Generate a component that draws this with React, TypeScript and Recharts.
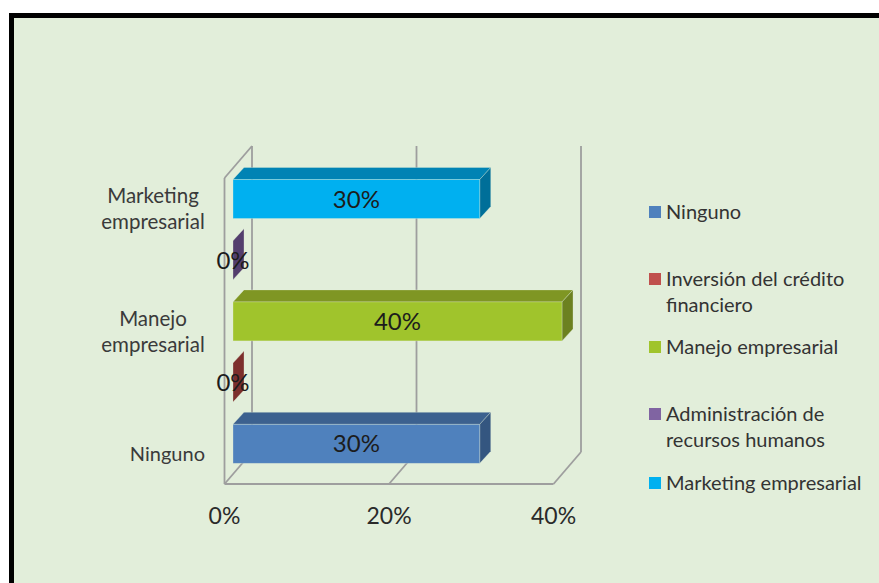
import { BarChart, Bar, XAxis, YAxis, CartesianGrid, Cell, LabelList, Legend } from "recharts";

const categories = [
  "Ninguno",
  "Inversión del crédito financiero",
  "Manejo empresarial",
  "Administración de recursos humanos",
  "Marketing empresarial",
];
const values = [30, 0, 40, 0, 30];
const valueTicks = [0, 20, 40];

const data = categories.map((name, i) => ({ name, value: values[i] }));

const FRONT = ["#4f81bd", "#c0504d", "#a0c42c", "#8064a2", "#00b0f0"];
const TOP = ["#3c618f", "#8f3a38", "#7f9623", "#5f4a7a", "#0083b4"];
const SIDE = ["#345680", "#7c2f2c", "#6c8120", "#533e6d", "#006f99"];

// legend rows are spaced by hand like the original
const LEGEND_ROWS = [
  { top: 198, lines: ["Ninguno"] },
  { top: 265, lines: ["Inversión del crédito", "financiero"] },
  { top: 333, lines: ["Manejo empresarial"] },
  { top: 400, lines: ["Administración de", "recursos humanos"] },
  { top: 469, lines: ["Marketing empresarial"] },
];

const FONT = "Lato, 'Open Sans', sans-serif";
const WIDTH = 879;
const HEIGHT = 583;
const MARGIN = { top: 168.5, right: 317, bottom: 68.5, left: 133 };
const Y_AXIS_WIDTH = 100;
const X_AXIS_HEIGHT = 40;
const PLOT_WIDTH = WIDTH - MARGIN.left - Y_AXIS_WIDTH - MARGIN.right;

// 3d box offsets
const BAR_DX = 11;
const BAR_DY = 12;
const FRONT_DX = -8.5;
const FRONT_DY = 9.5;
const BACK_DX = 19;
const BACK_DY = -22.5;
const GRID = "#9e9e9e";

function Box3D(props: any) {
  const { x, y, width, height, index } = props;
  const r = x + width;
  const b = y + height;
  const edge = "rgba(226,238,218,0.45)";
  return (
    <g>
      {width > 0 && (
        <polygon
          points={`${x},${y} ${r},${y} ${r + BAR_DX},${y - BAR_DY} ${x + BAR_DX},${y - BAR_DY}`}
          fill={TOP[index]}
          stroke={edge}
          strokeWidth={0.7}
        />
      )}
      <polygon
        points={`${r},${y} ${r + BAR_DX},${y - BAR_DY} ${r + BAR_DX},${b - BAR_DY} ${r},${b}`}
        fill={SIDE[index]}
        stroke={edge}
        strokeWidth={0.7}
      />
      {width > 0 && (
        <rect x={x} y={y} width={width} height={height} fill={FRONT[index]} stroke={edge} strokeWidth={0.7} />
      )}
    </g>
  );
}

function WallLine(props: any) {
  const { x1, y1, y2, index } = props;
  const stroke = { stroke: GRID, strokeWidth: 1.8, fill: "none" };
  const front = x1 + FRONT_DX;
  const back = x1 + BACK_DX;
  return (
    <g key={index}>
      <line x1={back} y1={y1 + BACK_DY} x2={back} y2={y2 + BACK_DY} {...stroke} />
      <line x1={front} y1={y2 + FRONT_DY} x2={back} y2={y2 + BACK_DY} {...stroke} />
      {index === 0 && (
        <>
          <line x1={front} y1={y1 + FRONT_DY} x2={front} y2={y2 + FRONT_DY} {...stroke} />
          <line x1={front} y1={y1 + FRONT_DY} x2={back} y2={y1 + BACK_DY} {...stroke} />
          <line x1={front} y1={y2 + FRONT_DY} x2={front + PLOT_WIDTH} y2={y2 + FRONT_DY} {...stroke} />
        </>
      )}
    </g>
  );
}

function CategoryTick(props: any) {
  const { y, payload } = props;
  const words = String(payload.value).split(" ");
  const base = { fontFamily: FONT, fontSize: 20.5, fill: "#3a3a3a" };
  if (words.length === 1) {
    return (
      <text x={205} y={y + 17} textAnchor="end" fontSize={20} fontFamily={FONT} fill={base.fill}>
        {words[0]}
      </text>
    );
  }
  return (
    <text textAnchor="middle" {...base}>
      {words.map((word, i) => (
        <tspan key={word} x={153} y={y + 4 + i * 26}>
          {word}
        </tspan>
      ))}
    </text>
  );
}

function ValueTick(props: any) {
  const { x, payload } = props;
  return (
    <text x={x + FRONT_DX} y={524} textAnchor="middle" fontFamily={FONT} fontSize={23} fill="#2a2a2a">
      {payload.value}%
    </text>
  );
}

function ChartLegend() {
  return (
    <div style={{ position: "relative", width: WIDTH, height: HEIGHT, fontFamily: FONT, fontSize: 20, color: "#333" }}>
      {LEGEND_ROWS.map((row, i) => (
        <div key={categories[i]} style={{ position: "absolute", left: 649, top: row.top, lineHeight: "26px" }}>
          <span style={{ position: "absolute", left: 0, top: 8, width: 12, height: 12, background: FRONT[i] }} />
          <div style={{ marginLeft: 17, whiteSpace: "nowrap" }}>
            {row.lines.map((line) => (
              <div key={line}>{line}</div>
            ))}
          </div>
        </div>
      ))}
    </div>
  );
}

export default function App() {
  return (
    <div style={{ position: "absolute", left: 0, top: 0, width: WIDTH, height: HEIGHT, overflow: "hidden", background: "#fff" }}>
      <div
        style={{
          position: "absolute",
          left: 9,
          top: 13,
          width: WIDTH,
          height: HEIGHT,
          boxSizing: "border-box",
          border: "5px solid #000",
          background: "#e2eeda",
        }}
      />
      <div style={{ position: "absolute", left: 0, top: 0 }}>
        <BarChart width={WIDTH} height={HEIGHT} data={data} layout="vertical" margin={MARGIN}>
          <CartesianGrid horizontal={false} vertical={WallLine} />
          <XAxis
            type="number"
            domain={[0, 40]}
            ticks={valueTicks}
            height={X_AXIS_HEIGHT}
            axisLine={false}
            tickLine={false}
            tick={<ValueTick />}
          />
          <YAxis
            type="category"
            dataKey="name"
            reversed
            width={Y_AXIS_WIDTH}
            interval={1}
            axisLine={false}
            tickLine={false}
            tick={<CategoryTick />}
          />
          <Legend
            layout="horizontal"
            verticalAlign="middle"
            align="center"
            content={<ChartLegend />}
            wrapperStyle={{ position: "absolute", left: 0, top: 0, width: WIDTH, height: HEIGHT }}
          />
          <Bar dataKey="value" barSize={39} shape={<Box3D />} isAnimationActive={false}>
            {data.map((d, i) => (
              <Cell key={d.name} fill={FRONT[i]} />
            ))}
            <LabelList
              dataKey="value"
              position="center"
              formatter={(v: any) => `${v}%`}
              fontFamily={FONT}
              fontSize={24}
              fill="#1c1c1c"
            />
          </Bar>
        </BarChart>
      </div>
    </div>
  );
}
